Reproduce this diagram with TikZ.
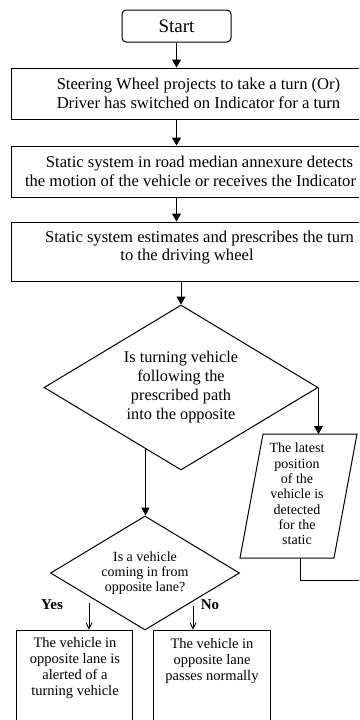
\documentclass[tikz,border=0pt]{standalone}
\usepackage{fontspec}
\setmainfont{Liberation Serif}
\usetikzlibrary{arrows.meta,shapes.geometric,calc}
\begin{document}
\begin{tikzpicture}[x=1pt,y=-1pt, line width=1pt,
  box/.style={draw, rectangle, inner sep=0pt},
  bigtxt/.style={font=\fontsize{16.6}{18.5}\selectfont, align=center, inner sep=0pt},
  midtxt/.style={font=\fontsize{16.3}{19}\selectfont, align=center, inner sep=0pt},
  smalltxt/.style={font=\fontsize{14}{15.3}\selectfont, align=center, inner sep=0pt},
  lowtxt/.style={font=\fontsize{14.5}{16}\selectfont, align=center, inner sep=0pt},
  lbl/.style={font=\fontsize{15}{17}\selectfont\bfseries, inner sep=0pt},
  arr/.style={-{Triangle[length=8pt,width=9pt]}},
  thinarr/.style={-{Straight Barb[length=6pt,width=6pt]}, line width=0.8pt},
]
\useasboundingbox (0,0) rectangle (359,720);
\clip (0,0) rectangle (359,720);

% start and top boxes
\node[draw, rounded corners=4pt, minimum width=109pt, minimum height=32pt, inner sep=0pt,
      font=\fontsize{19}{22}\selectfont] (start) at (176.5,26) {Start};
\node[box, bigtxt, minimum width=375pt, minimum height=51pt] (b1) at (198.5,93.5)
  {Steering Wheel projects to take a turn (Or)\\Driver has switched on Indicator for a turn};
\node[box, bigtxt, minimum width=359pt, minimum height=51pt] (b2) at (190.5,171.5)
  {\hspace*{18pt}Static system in road median annexure detects\\the motion of the vehicle or receives the Indicator};
\node[box, minimum width=359pt, minimum height=59pt] (b3) at (190.5,251.5) {};
\node[bigtxt] (b3t) at (187,247.5)
  {\hspace*{25pt}Static system estimates and prescribes the turn\\to the driving wheel};

% decision 1
\node[draw, diamond, shape aspect=1.66, minimum width=274pt, minimum height=165pt, inner sep=0pt, midtxt]
  (d1) at (181,387.5) {Is turning vehicle\\following the\\prescribed path\\into the opposite};

% parallelogram
\coordinate (p1) at (263,434);
\coordinate (p2) at (357,434);
\coordinate (p3) at (334,558);
\coordinate (p4) at (240,558);
\draw (p1) -- (p2) -- (p3) -- (p4) -- cycle;
\node[smalltxt] (pt) at (297,494)
  {The latest\\position\\of the\\vehicle is\\detected\\for the\\static};
\coordinate (pbot) at (300,558);
\coordinate (pend) at (372,580);

% decision 2
\node[draw, diamond, shape aspect=1.66, minimum width=189pt, minimum height=114pt, inner sep=0pt, smalltxt]
  (d2) at (145,573) {Is a vehicle\\coming in from\\opposite lane?};

\node[lbl] (yes) at (52,605) {Yes};
\node[lbl] (no) at (210,605) {No};

% bottom boxes
\node[box, minimum width=116pt, minimum height=110pt] (yb) at (74,685) {};
\node[lowtxt] (ybt) at (75,668) {The vehicle in\\opposite lane is\\alerted of a\\turning vehicle};
\node[box, minimum width=117pt, minimum height=110pt] (nb) at (211.5,685) {};
\node[lowtxt] (nbt) at (212,661) {The vehicle in\\opposite lane\\passes normally};

\coordinate (ya) at (89,603);
\coordinate (na) at (193,606);

% connectors
\draw[arr] (start.south) -- (start.south |- b1.north);
\draw[arr] (start.south |- b1.south) -- (start.south |- b2.north);
\draw[arr] (start.south |- b2.south) -- (start.south |- b3.north);
\draw[arr] (b3.south -| d1.north) -- (d1.north);
\draw[arr] (d1.east) -- (d1.east |- p1);
\draw (pbot) |- (pend);
\draw[arr, -{Triangle[length=8pt,width=8pt]}] (d1.240) -- (d1.240 |- d2.north);
\draw[thinarr] (ya) -- (ya |- yb.north);
\draw[thinarr] (na) -- (na |- nb.north);
\end{tikzpicture}
\end{document}
